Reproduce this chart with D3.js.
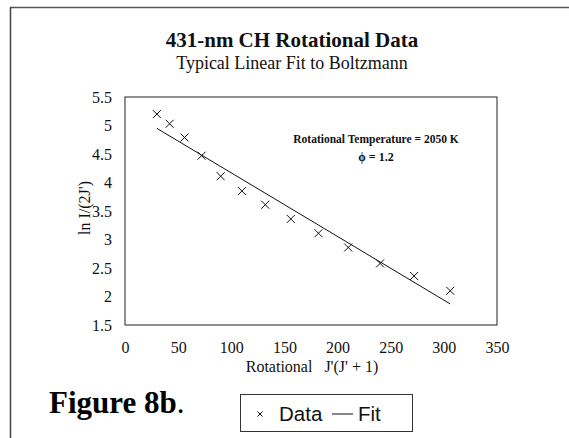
<!DOCTYPE html>
<html>
<head>
<meta charset="utf-8">
<script src="https://cdn.jsdelivr.net/npm/d3@7"></script>
<style>
  html, body { margin: 0; padding: 0; background: #fff; }
  svg { display: block; }
</style>
</head>
<body>
<svg id="chart" width="569" height="438"></svg>
<script>
// ---- data ----
const jValues = [30, 42, 56, 72, 90, 110, 132, 156, 182, 210, 240, 272, 306];
const lnValues = [5.20, 5.03, 4.79, 4.47, 4.11, 3.85, 3.61, 3.36, 3.11, 2.86, 2.58, 2.36, 2.10];
const fitX = [30, 306];
const fitY = [4.95, 1.87];
const xTicks = [0, 50, 100, 150, 200, 250, 300, 350];
const yTicks = [1.5, 2, 2.5, 3, 3.5, 4, 4.5, 5, 5.5];

const svg = d3.select("#chart");
const serif = "'Liberation Serif', 'Times New Roman', serif";
const sans = "'Liberation Sans', Arial, sans-serif";

// outer frame (top and left edges visible)
svg.append("line").attr("x1", 10).attr("y1", 7.5).attr("x2", 569).attr("y2", 7.5)
  .attr("stroke", "#555").attr("stroke-width", 1.5);
svg.append("line").attr("x1", 10.5).attr("y1", 7).attr("x2", 10.5).attr("y2", 438)
  .attr("stroke", "#444").attr("stroke-width", 1.5);

const m = { left: 125, top: 97, right: 497, bottom: 325 };
const x = d3.scaleLinear().domain([0, 350]).range([m.left, m.right]);
const y = d3.scaleLinear().domain([1.5, 5.5]).range([m.bottom, m.top]);

// plot box
svg.append("rect").attr("x", m.left).attr("y", m.top)
  .attr("width", m.right - m.left).attr("height", m.bottom - m.top)
  .attr("fill", "none").attr("stroke", "#222").attr("stroke-width", 1);

// axes (labels only, no tick marks)
const xAxis = svg.append("g").attr("transform", `translate(0,${m.bottom + 14})`)
  .call(d3.axisBottom(x).tickValues(xTicks).tickSize(0).tickFormat(d3.format("d")));
xAxis.select(".domain").remove();
xAxis.selectAll("text").attr("font-family", serif).attr("font-size", 16).attr("fill", "#111");

const yAxis = svg.append("g").attr("transform", `translate(${m.left - 10},0)`)
  .call(d3.axisLeft(y).tickValues(yTicks).tickSize(0).tickFormat(d => String(d)));
yAxis.select(".domain").remove();
yAxis.selectAll("text").attr("font-family", serif).attr("font-size", 16).attr("fill", "#111");

// titles
svg.append("text").attr("x", 292).attr("y", 47).attr("text-anchor", "middle")
  .attr("font-family", serif).attr("font-weight", "bold").attr("font-size", 21)
  .attr("fill", "#111").text("431-nm CH Rotational Data");
svg.append("text").attr("x", 292).attr("y", 69).attr("text-anchor", "middle")
  .attr("font-family", serif).attr("font-size", 18)
  .attr("fill", "#111").text("Typical Linear Fit to Boltzmann");

// axis titles
svg.append("text").attr("x", 312).attr("y", 372).attr("text-anchor", "middle")
  .attr("font-family", serif).attr("font-size", 16).attr("fill", "#111")
  .attr("xml:space", "preserve").text("Rotational   J'(J' + 1)");
svg.append("text").attr("transform", "translate(90,208) rotate(-90)")
  .attr("text-anchor", "middle").attr("font-family", serif).attr("font-size", 16)
  .attr("fill", "#111").text("ln I/(2J')");

// annotation
svg.append("text").attr("x", 376).attr("y", 143).attr("text-anchor", "middle")
  .attr("font-family", serif).attr("font-weight", "bold").attr("font-size", 11.5)
  .attr("fill", "#111").text("Rotational Temperature = 2050 K");
svg.append("text").attr("x", 376).attr("y", 161).attr("text-anchor", "middle")
  .attr("font-family", serif).attr("font-weight", "bold").attr("font-size", 12)
  .attr("fill", "#111").text("\u03D5 = 1.2");

// fit line
svg.append("line")
  .attr("x1", x(fitX[0])).attr("y1", y(fitY[0]))
  .attr("x2", x(fitX[1])).attr("y2", y(fitY[1]))
  .attr("stroke", "#111").attr("stroke-width", 1);

// data markers (x)
const s = 4;
const pts = svg.append("g");
jValues.forEach((j, i) => {
  const cx = x(j), cy = y(lnValues[i]);
  pts.append("path")
    .attr("d", `M${cx - s},${cy - s}L${cx + s},${cy + s}M${cx - s},${cy + s}L${cx + s},${cy - s}`)
    .attr("stroke", "#111").attr("stroke-width", 1).attr("fill", "none");
});

// Figure label
const fig = svg.append("text").attr("x", 49).attr("y", 413)
  .attr("font-family", serif).attr("font-size", 31).attr("fill", "#000");
fig.append("tspan").attr("font-weight", "bold").text("Figure 8b");
fig.append("tspan").text(".");

// legend
svg.append("rect").attr("x", 240.5).attr("y", 394.5).attr("width", 172).attr("height", 37)
  .attr("fill", "none").attr("stroke", "#333").attr("stroke-width", 1);
const ls = 2.5, lx = 260, ly = 414;
svg.append("path")
  .attr("d", `M${lx - ls},${ly - ls}L${lx + ls},${ly + ls}M${lx - ls},${ly + ls}L${lx + ls},${ly - ls}`)
  .attr("stroke", "#111").attr("stroke-width", 1);
svg.append("text").attr("x", 279).attr("y", 421).attr("font-family", sans)
  .attr("font-size", 20.5).attr("fill", "#111").text("Data");
svg.append("line").attr("x1", 332).attr("y1", 414).attr("x2", 353).attr("y2", 414)
  .attr("stroke", "#111").attr("stroke-width", 1);
svg.append("text").attr("x", 358).attr("y", 421).attr("font-family", sans)
  .attr("font-size", 20.5).attr("fill", "#111").text("Fit");
</script>
</body>
</html>
